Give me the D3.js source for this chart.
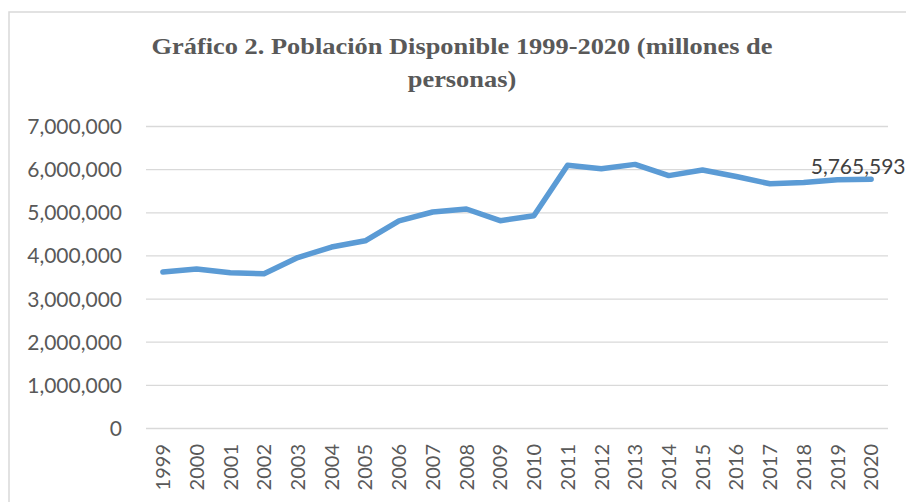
<!DOCTYPE html>
<html>
<head>
<meta charset="utf-8">
<script src="https://cdn.jsdelivr.net/npm/d3@7"></script>
<style>
  html, body { margin: 0; padding: 0; background: #fff; }
  svg { display: block; }
</style>
</head>
<body>
<svg id="chart" width="906" height="502"></svg>
<script>
const years = ["1999","2000","2001","2002","2003","2004","2005","2006","2007","2008","2009","2010","2011","2012","2013","2014","2015","2016","2017","2018","2019","2020"];
const population = [3616000,3685000,3600000,3577000,3950000,4195000,4340000,4800000,5007000,5076000,4805000,4920000,6090000,6010000,6110000,5850000,5980000,5830000,5660000,5690000,5755000,5765593];
const yTicks = [0,1000000,2000000,3000000,4000000,5000000,6000000,7000000];
const titleLines = ["Gráfico 2. Población Disponible 1999-2020 (millones de", "personas)"];

const svg = d3.select("#chart");
const plot = { left: 146, right: 888, top: 126, bottom: 428 };

// chart border (top and left visible)
svg.append("rect")
  .attr("x", 9).attr("y", 12)
  .attr("width", 920).attr("height", 520)
  .attr("fill", "none")
  .attr("stroke", "#d9d9d9")
  .attr("stroke-width", 1.5);

// title
const title = svg.append("text")
  .attr("transform", "translate(462,0) scale(1.1,1)")
  .attr("text-anchor", "middle")
  .attr("font-family", "'Liberation Serif', 'Times New Roman', serif")
  .attr("font-weight", "bold")
  .attr("font-size", 24)
  .attr("fill", "#595959");
title.selectAll("tspan").data(titleLines).join("tspan")
  .attr("x", 0)
  .attr("y", (d, i) => 54 + i * 33)
  .text(d => d);

const x = d3.scaleBand().domain(years).range([plot.left, plot.right]).padding(0);
const y = d3.scaleLinear().domain([0, 7000000]).range([plot.bottom, plot.top]);
const cx = d => x(d) + x.bandwidth() / 2;

// gridlines + y labels via axis
const yAxis = d3.axisLeft(y).tickValues(yTicks).tickFormat(d3.format(",")).tickSize(-(plot.right - plot.left)).tickPadding(24);
const gy = svg.append("g").attr("transform", `translate(${plot.left},0)`).call(yAxis);
gy.select(".domain").remove();
gy.selectAll(".tick line").attr("stroke", "#d9d9d9").attr("stroke-width", 1.3);
gy.selectAll(".tick text")
  .attr("font-family", "Lato, 'Open Sans', sans-serif")
  .attr("font-size", 21)
  .attr("fill", "#595959")
  .attr("dy", "0.36em");

// x labels via axis
const xAxis = d3.axisBottom(x).tickSize(0).tickPadding(0);
const gx = svg.append("g").attr("transform", `translate(0,${plot.bottom})`).call(xAxis);
gx.select(".domain").remove();
gx.selectAll(".tick text")
  .attr("font-family", "Lato, 'Open Sans', sans-serif")
  .attr("font-size", 20)
  .attr("fill", "#595959")
  .attr("text-anchor", "end")
  .attr("transform", "rotate(-90)")
  .attr("x", -16)
  .attr("y", 0)
  .attr("dy", "0.36em");

// line
const line = d3.line().x((d, i) => cx(years[i])).y(d => y(d));
svg.append("path")
  .datum(population)
  .attr("d", line)
  .attr("fill", "none")
  .attr("stroke", "#5b9bd5")
  .attr("stroke-width", 5.5)
  .attr("stroke-linejoin", "round")
  .attr("stroke-linecap", "round");

// data label on last point
const lastIdx = population.length - 1;
svg.append("text")
  .attr("x", cx(years[lastIdx]) - 13)
  .attr("y", y(population[lastIdx]) - 5.5)
  .attr("text-anchor", "middle")
  .attr("font-family", "Lato, 'Open Sans', sans-serif")
  .attr("font-size", 21)
  .attr("fill", "#404040")
  .text(d3.format(",")(population[lastIdx]));
</script>
</body>
</html>
